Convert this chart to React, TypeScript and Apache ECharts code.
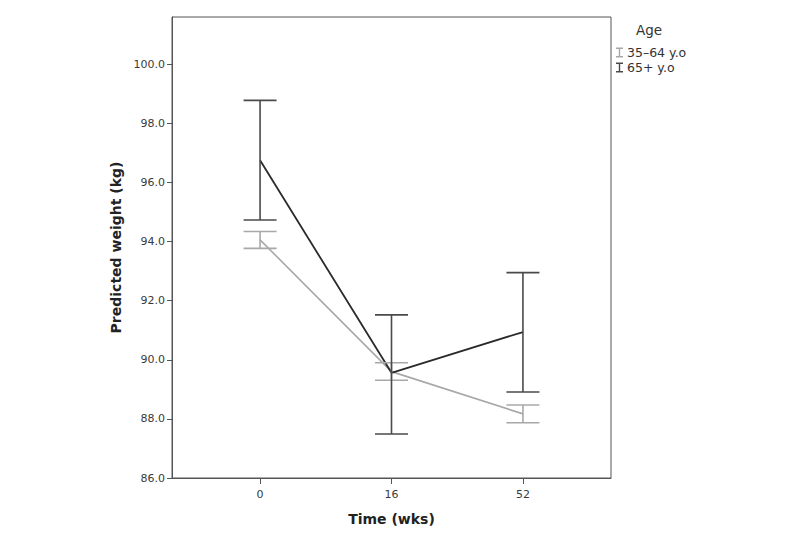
import React, { useEffect, useRef } from "react";
import * as echarts from "echarts";

const categories = ["0", "16", "52"];
const mean35 = [94.06, 89.6, 88.17];
const lower35 = [93.77, 89.31, 87.87];
const upper35 = [94.34, 89.9, 88.47];
const mean65 = [96.75, 89.56, 90.94];
const lower65 = [94.73, 87.49, 88.91];
const upper65 = [98.78, 91.52, 92.95];
const yTicks = [86, 88, 90, 92, 94, 96, 98, 100];

const GREY = "#a8a8a8";
const DARK = "#2a2a2a";
const DARK_BAR = "#4a4a4a";

function errorSeries(name: string, lower: number[], upper: number[], color: string) {
  return {
    type: "custom",
    name,
    color,
    itemStyle: { color },
    z: 3,
    data: categories.map((_, i) => [i, lower[i], upper[i]]),
    renderItem: (params: any, api: any) => {
      const x = api.value(0);
      const lo = api.coord([x, api.value(1)]);
      const hi = api.coord([x, api.value(2)]);
      const hw = 16.5;
      const style = { stroke: color, lineWidth: 1.6, fill: null };
      return {
        type: "group",
        children: [
          { type: "line", shape: { x1: lo[0], y1: lo[1], x2: hi[0], y2: hi[1] }, style },
          { type: "line", shape: { x1: hi[0] - hw, y1: hi[1], x2: hi[0] + hw, y2: hi[1] }, style },
          { type: "line", shape: { x1: lo[0] - hw, y1: lo[1], x2: lo[0] + hw, y2: lo[1] }, style },
        ],
      };
    },
  };
}

export default function App() {
  const ref = useRef<HTMLDivElement>(null);
  useEffect(() => {
    if (!ref.current) return;
    const chart = echarts.init(ref.current, null, { renderer: "svg" });
    const font = "DejaVu Sans";
    chart.setOption({
      animation: false,
      backgroundColor: "#ffffff",
      textStyle: { fontFamily: font },
      grid: {
        left: 172,
        right: 189,
        top: 17,
        bottom: 60,
        show: true,
        borderColor: "#555",
        borderWidth: 1,
        backgroundColor: "transparent",
      },
      legend: {
        orient: "vertical",
        left: 611,
        top: 41,
        itemGap: 2,
        itemWidth: 7,
        itemHeight: 11,
        data: [
          { name: "35–64 y.o", icon: "path://M0,0H7V1.4H4.2V8.6H7V10H0V8.6H2.8V1.4H0Z" },
          { name: "65+ y.o", icon: "path://M0,0H7V1.4H4.2V8.6H7V10H0V8.6H2.8V1.4H0Z" },
        ],
        textStyle: { fontFamily: font, fontSize: 12.5, color: "#333", padding: [0, 0, 0, -1] },
        selectedMode: false,
      },
      graphic: [
        {
          type: "text",
          left: 636,
          top: 23,
          style: { text: "Age", fontFamily: font, fontSize: 13.5, fill: "#333" },
        },
      ],
      xAxis: {
        type: "value",
        min: -0.67,
        max: 2.67,
        name: "Time (wks)",
        nameLocation: "middle",
        nameGap: 34,
        nameTextStyle: { fontFamily: font, fontSize: 14, fontWeight: "bold", color: "#222" },
        axisLine: { show: true, onZero: false, lineStyle: { color: "#555", width: 1 } },
        axisTick: { show: true, length: 6, lineStyle: { color: "#555" }, customValues: [0, 1, 2] },
        axisLabel: {
          customValues: [0, 1, 2],
          formatter: (v: number) => categories[Math.round(v)] ?? "",
          fontFamily: font,
          fontSize: 11,
          color: "#3a3a3a",
          margin: 11,
        },
        splitLine: { show: false },
      },
      yAxis: {
        type: "value",
        min: 86,
        max: 101.6,
        name: "Predicted weight (kg)",
        nameLocation: "middle",
        nameGap: 49,
        nameTextStyle: { fontFamily: font, fontSize: 14, fontWeight: "bold", color: "#222" },
        axisLine: { show: true, onZero: false, lineStyle: { color: "#555", width: 1 } },
        axisTick: { show: true, length: 5, lineStyle: { color: "#555" }, customValues: yTicks },
        axisLabel: {
          customValues: yTicks,
          formatter: (v: number) => v.toFixed(1),
          fontFamily: font,
          fontSize: 11,
          color: "#3a3a3a",
          margin: 7,
        },
        splitLine: { show: false },
      },
      series: [
        {
          type: "line",
          name: "mean35",
          data: categories.map((_, i) => [i, mean35[i]]),
          showSymbol: false,
          symbol: "none",
          lineStyle: { color: GREY, width: 1.6 },
          itemStyle: { color: GREY },
          z: 2,
        },
        errorSeries("35–64 y.o", lower35, upper35, GREY),
        {
          type: "line",
          name: "mean65",
          data: categories.map((_, i) => [i, mean65[i]]),
          showSymbol: false,
          symbol: "none",
          lineStyle: { color: DARK, width: 1.8 },
          itemStyle: { color: DARK },
          z: 2,
        },
        errorSeries("65+ y.o", lower65, upper65, DARK_BAR),
      ],
    });
    return () => chart.dispose();
  }, []);
  return <div ref={ref} style={{ width: 800, height: 538, margin: -8 }} />;
}
